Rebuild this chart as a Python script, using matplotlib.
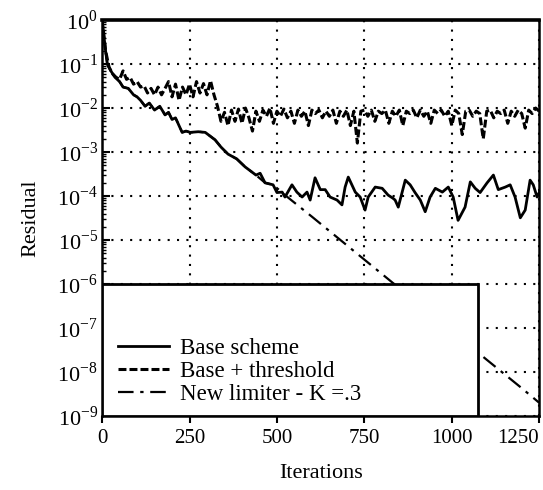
import numpy as np
import matplotlib
matplotlib.use('Agg')
import matplotlib.pyplot as plt
from matplotlib.patches import Rectangle
from matplotlib.ticker import FixedLocator, FixedFormatter, LogLocator, NullFormatter

plt.rcParams['font.family'] = ['Liberation Serif', 'DejaVu Serif']
plt.rcParams['mathtext.fontset'] = 'custom'
plt.rcParams['mathtext.rm'] = 'Liberation Serif'

# Base + threshold (noisy, stalls near 1e-2), sampled every 10 iterations
thr_iter = np.arange(0, 1251, 10)
thr_res = [
    1.0, 0.2, 0.085, 0.06, 0.05, 0.045, 0.07, 0.045, 0.05, 0.035,
    0.04, 0.03, 0.032, 0.022, 0.028, 0.02, 0.03, 0.02, 0.028, 0.04,
    0.018, 0.035, 0.015, 0.03, 0.02, 0.035, 0.018, 0.04, 0.022, 0.036,
    0.02, 0.042, 0.02, 0.011, 0.005, 0.008, 0.004, 0.009, 0.005, 0.0095,
    0.0045, 0.01, 0.006, 0.003, 0.0085, 0.005, 0.009, 0.0065, 0.01, 0.0045,
    0.0085, 0.0065, 0.0095, 0.006, 0.0085, 0.0045, 0.009, 0.0065, 0.0085, 0.004,
    0.009, 0.0075, 0.009, 0.006, 0.0085, 0.0065, 0.009, 0.0045, 0.0085, 0.0065,
    0.009, 0.004, 0.0085, 0.0016, 0.0085, 0.009, 0.0065, 0.009, 0.005, 0.0085,
    0.0075, 0.009, 0.0045, 0.0085, 0.0065, 0.009, 0.004, 0.0085, 0.0075, 0.009,
    0.006, 0.009, 0.0065, 0.0085, 0.0045, 0.009, 0.0075, 0.009, 0.0065, 0.0085,
    0.004, 0.009, 0.0075, 0.0025, 0.0085, 0.009, 0.0065, 0.0085, 0.0075, 0.002,
    0.0085, 0.009, 0.006, 0.0085, 0.0075, 0.009, 0.0045, 0.0085, 0.0065, 0.009,
    0.0075, 0.0035, 0.009, 0.0075, 0.01, 0.0085,
]

# Base scheme (stalls near 1e-4)
base_iter = [0, 5, 10, 15, 25, 37, 50, 60, 75, 90,
             100, 110, 123, 135, 150, 165, 180, 190, 200, 210,
             220, 229, 240, 252, 275, 295, 323, 340, 360, 385,
             409, 440,
             452, 466, 489, 500, 515, 523, 543, 557, 572, 586,
             595, 609, 624, 638, 652, 672, 686, 695, 704, 724,
             738, 752, 761, 781, 801, 818, 832, 838, 847, 867,
             881, 895, 910, 924, 938, 953, 973, 990, 1004, 1018,
             1038, 1053, 1067, 1081, 1101, 1119, 1133, 1153, 1167, 1181,
             1196, 1210, 1224, 1233, 1244, 1250]
base_res = [1.0, 0.45, 0.2, 0.1, 0.07, 0.05, 0.04, 0.03, 0.028, 0.02,
            0.018, 0.015, 0.011, 0.013, 0.009, 0.011, 0.007, 0.008, 0.0055, 0.006,
            0.004, 0.0028, 0.003, 0.0028, 0.0029, 0.0028, 0.0019, 0.0013, 0.0009, 0.0007,
            0.00046, 0.0003,
            3.3e-4, 2.0e-4, 1.8e-4, 1.2e-4, 1.23e-4, 9.5e-5, 1.8e-4, 1.23e-4, 9.5e-5, 1.23e-4,
            8.1e-5, 2.6e-4, 1.4e-4, 1.4e-4, 9.5e-5, 8.1e-5, 6.3e-5, 1.6e-4, 2.7e-4, 1.23e-4,
            9.5e-5, 4.8e-5, 9.5e-5, 1.6e-4, 1.5e-4, 1.05e-4, 8.9e-5, 8.1e-5, 5.6e-5, 2.3e-4,
            1.8e-4, 1.2e-4, 8.1e-5, 4.4e-5, 9.5e-5, 1.5e-4, 1.23e-4, 1.6e-4, 9.5e-5, 2.8e-5,
            5.6e-5, 2.1e-4, 1.5e-4, 1.2e-4, 2.0e-4, 3.0e-4, 1.4e-4, 1.6e-4, 1.8e-4, 9.5e-5,
            3.2e-5, 4.8e-5, 2.3e-4, 1.8e-4, 9.5e-5, 1.2e-4]

# New limiter K=.3: same path as base up to ~490, then keeps converging
lim_iter = base_iter[:32] + [466, 489, 530, 600, 700, 800, 900, 1000, 1100, 1200, 1250]
lim_res = base_res[:32] + [2.0e-4, 1.8e-4, 9.5e-5, 3.4e-5, 7.6e-6, 1.7e-6, 3.8e-7,
                           8.5e-8, 1.9e-8, 4.3e-9, 2.0e-9]

x_ticks = [0, 250, 500, 750, 1000, 1250]
y_exps = [0, -1, -2, -3, -4, -5, -6, -7, -8, -9]

fig = plt.figure(figsize=(5.43, 4.90), dpi=100)
ax = fig.add_axes([0.188, 0.151, 0.805, 0.808])

ax.plot(lim_iter, lim_res, color='black', lw=1.6, linestyle=(0, (7, 3, 1.5, 3)),
        label='New limiter - K =.3', zorder=2)
ax.plot(thr_iter, thr_res, color='black', lw=2.2, linestyle=(0, (2.6, 1.0)),
        label='Base + threshold', zorder=3)
ax.plot(base_iter, base_res, color='black', lw=2.0, label='Base scheme', zorder=3)

ax.set_yscale('log')
ax.set_xlim(0, 1250)
ax.set_ylim(1e-9, 1)

yt = [10.0 ** e for e in y_exps]
ax.yaxis.set_major_locator(FixedLocator(yt))
ax.yaxis.set_major_formatter(FixedFormatter([r'$10^{%d}$' % e for e in y_exps]))
ax.yaxis.set_minor_locator(LogLocator(base=10, subs=np.arange(2, 10), numticks=20))
ax.yaxis.set_minor_formatter(NullFormatter())
ax.tick_params(axis='y', which='major', direction='in', length=6, width=1.5, labelsize=16, pad=3)
ax.tick_params(axis='y', which='minor', direction='in', length=3, width=1)

ax.xaxis.set_major_locator(FixedLocator(x_ticks))
ax.set_xticklabels([str(t) for t in x_ticks])
ax.tick_params(axis='x', direction='out', length=5, width=1.5, labelsize=15, pad=4)
ax.get_xticklabels()[-1].set_horizontalalignment('right')

ax.grid(True, which='major', color='black', linestyle=(0, (1, 3.5)), lw=1.5)
for side in ['left', 'right', 'bottom']:
    ax.spines[side].set_linewidth(1.8)
ax.spines['top'].set_linewidth(2.6)

ax.set_xlabel('Iterations', fontsize=16, labelpad=12)
ax.set_ylabel('Residual', fontsize=16, labelpad=12)

# legend box covering the lower left part
ax.add_patch(Rectangle((0, 0), 0.86, 1 / 3, transform=ax.transAxes,
                       facecolor='white', edgecolor='black', lw=2, zorder=4))
handles, labels = ax.get_legend_handles_labels()
order = [2, 1, 0]
leg = ax.legend([handles[i] for i in order], [labels[i] for i in order],
                loc='lower left', bbox_to_anchor=(0.0, -0.012), frameon=False,
                fontsize=16.5, handlelength=2.2, handletextpad=0.5, labelspacing=0.08,
                borderaxespad=0.3)
leg.set_zorder(5)

fig.savefig('out.png', dpi=100)
